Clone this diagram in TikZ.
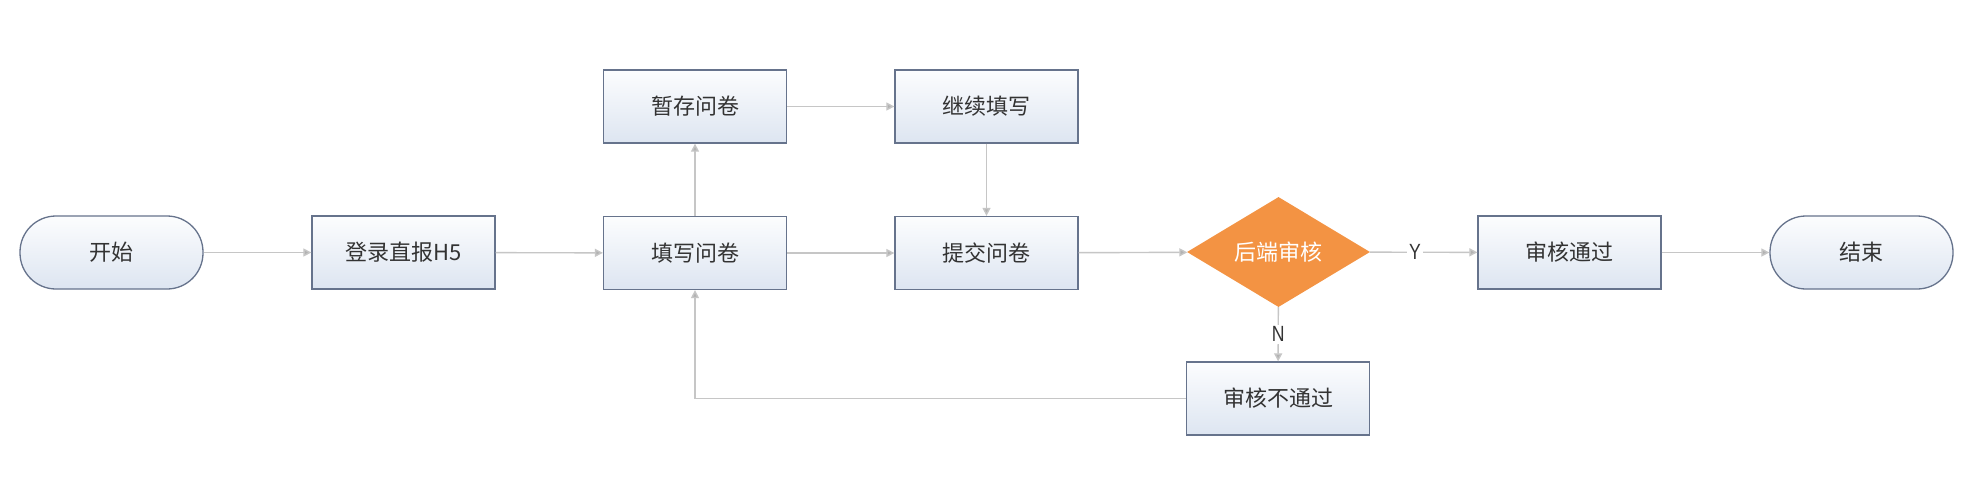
\documentclass[tikz,border=0pt]{standalone}
\usepackage{fontspec}
\newfontfamily\cjk{Noto Sans CJK SC}
\newfontfamily\lblfont[FakeStretch=0.8]{Liberation Sans}
\usetikzlibrary{shapes.geometric,arrows.meta}
\definecolor{boxedge}{HTML}{66738C}
\definecolor{boxtop}{HTML}{FCFDFE}
\definecolor{boxbot}{HTML}{DDE5F1}
\definecolor{lnk}{HTML}{C6C6C6}
\definecolor{orng}{HTML}{F39343}
\definecolor{txt}{HTML}{333333}
\tikzset{
  base/.style={minimum width=183pt, minimum height=73pt, inner sep=0pt,
    draw=boxedge, line width=1.3pt, top color=boxtop, bottom color=boxbot,
    text=txt, font=\cjk\fontsize{22}{26}\selectfont},
  procbox/.style={base, rectangle},
  termbox/.style={base, rectangle, rounded corners=36pt},
  decbox/.style={diamond, aspect=1.66, minimum width=183pt, minimum height=110pt,
    inner sep=0pt, fill=orng, draw=none, text=white, font=\cjk\fontsize{22}{26}\selectfont},
  link/.style={draw=lnk, line width=1.4pt, -{Triangle[width=8pt,length=8pt,fill=lnk!90!black]}},
  yn/.style={fill=white, inner sep=2pt, text=txt, font=\lblfont\fontsize{22}{26}\selectfont}
}
\begin{document}
\begin{tikzpicture}[x=1pt,y=-1pt]
\useasboundingbox (0,0) rectangle (1986,480);
\fill[white] (0,0) rectangle (1986,480);
\node[termbox] (start) at (111.5,252.5) {开始};
\node[procbox] (login) at (403.5,252.5) {登录直报H5};
\node[procbox] (fill) at (695,253) {填写问卷};
\node[procbox] (save) at (695,106.5) {暂存问卷};
\node[procbox] (cont) at (986.5,106.5) {继续填写};
\node[procbox] (submit) at (986.5,253) {提交问卷};
\node[decbox] (check) at (1278.5,252) {后端审核};
\node[procbox] (pass) at (1569.5,252.5) {审核通过};
\node[termbox] (end) at (1861.5,252.5) {结束};
\node[procbox] (fail) at (1278,398.5) {审核不通过};
\draw[link] (start) -- (login);
\draw[link] (login) -- (fill);
\draw[link] (fill) -- (save);
\draw[link] (save) -- (cont);
\draw[link] (cont) -- (submit);
\draw[link] (fill) -- (submit);
\draw[link] (submit) -- (check);
\draw[link] (check) -- node[yn, pos=0.42] (ylab) {Y} (pass);
\draw[link] (pass) -- (end);
\draw[link] (check) -- node[yn, pos=0.5] (nlab) {N} (fail);
\draw[link] (fail.west) -| (fill.south);
\end{tikzpicture}
\end{document}
